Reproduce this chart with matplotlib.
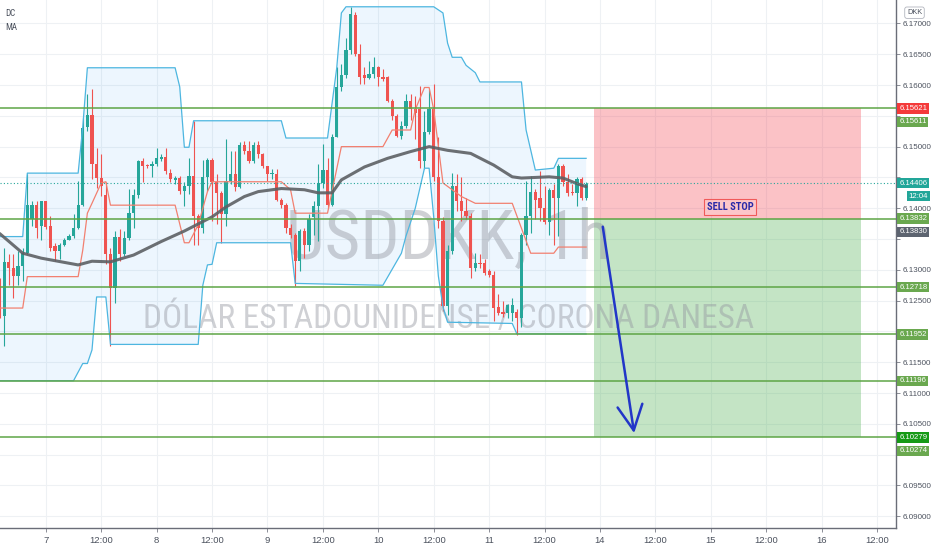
import numpy as np
import matplotlib.pyplot as plt
from matplotlib.patches import Rectangle

# USDDKK 1h candles, hour 0 = day 7 00:00 (weekend skipped), first candle at hour -10
opens = [6.1282, 6.1225, 6.1313, 6.1303, 6.1290, 6.1306, 6.1328, 6.1382, 6.1406, 6.1371,
         6.1411, 6.1371, 6.1339, 6.1330, 6.1341, 6.1349, 6.1355, 6.1368, 6.1406, 6.1532,
         6.1552, 6.1471, 6.1449, 6.1421, 6.1325, 6.1271, 6.1353, 6.1325, 6.1351, 6.1393,
         6.1421, 6.1477, 6.1470, 6.1468, 6.1471, 6.1480, 6.1483, 6.1458, 6.1446, 6.1449,
         6.1428, 6.1436, 6.1452, 6.1387, 6.1368, 6.1450, 6.1479, 6.1442, 6.1425, 6.1390,
         6.1444, 6.1456, 6.1434, 6.1502, 6.1493, 6.1477, 6.1502, 6.1488, 6.1469, 6.1455,
         6.1456, 6.1414, 6.1406, 6.1368, 6.1357, 6.1314, 6.1363, 6.1340, 6.1385, 6.1404,
         6.1441, 6.1462, 6.1406, 6.1516, 6.1597, 6.1617, 6.1657, 6.1714, 6.1651, 6.1617,
         6.1611, 6.1618, 6.1630, 6.1613, 6.1613, 6.1574, 6.1550, 6.1517, 6.1534, 6.1574,
         6.1561, 6.1561, 6.1477, 6.1523, 6.1561, 6.1450, 6.1379, 6.1241, 6.1331, 6.1436,
         6.1412, 6.1395, 6.1388, 6.1303, 6.1311, 6.1311, 6.1298, 6.1292, 6.1239, 6.1232,
         6.1230, 6.1230, 6.1232, 6.1222, 6.1357, 6.1387, 6.1427, 6.1417, 6.1401, 6.1378,
         6.1429, 6.1417, 6.1469, 6.1442, 6.1427, 6.1425, 6.1447, 6.1417]
highs = [6.1287, 6.1336, 6.1325, 6.1325, 6.1330, 6.1336, 6.1455, 6.1412, 6.1412, 6.1412,
         6.1412, 6.1387, 6.1344, 6.1344, 6.1352, 6.1359, 6.1390, 6.1444, 6.1547, 6.1585,
         6.1593, 6.1498, 6.1488, 6.1442, 6.1336, 6.1363, 6.1366, 6.1363, 6.1431, 6.1431,
         6.1479, 6.1481, 6.1472, 6.1477, 6.1498, 6.1488, 6.1498, 6.1463, 6.1452, 6.1452,
         6.1442, 6.1482, 6.1542, 6.1390, 6.1479, 6.1482, 6.1482, 6.1455, 6.1428, 6.1512,
         6.1493, 6.1493, 6.1507, 6.1509, 6.1509, 6.1507, 6.1509, 6.1490, 6.1469, 6.1463,
         6.1463, 6.1417, 6.1409, 6.1374, 6.1360, 6.1366, 6.1368, 6.1390, 6.1412, 6.1471,
         6.1504, 6.1482, 6.1520, 6.1629, 6.1634, 6.1677, 6.1726, 6.1718, 6.1666, 6.1629,
         6.1639, 6.1645, 6.1631, 6.1626, 6.1615, 6.1577, 6.1553, 6.1542, 6.1585, 6.1585,
         6.1582, 6.1599, 6.1558, 6.1593, 6.1601, 6.1515, 6.1385, 6.1341, 6.1458, 6.1455,
         6.1450, 6.1417, 6.1392, 6.1328, 6.1325, 6.1317, 6.1301, 6.1298, 6.1260, 6.1249,
         6.1244, 6.1255, 6.1236, 6.1360, 6.1444, 6.1452, 6.1431, 6.1461, 6.1436, 6.1433,
         6.1439, 6.1471, 6.1471, 6.1455, 6.1439, 6.1450, 6.1450, 6.1442]
lows = [6.1222, 6.1176, 6.1276, 6.1255, 6.1276, 6.1282, 6.1325, 6.1371, 6.1352, 6.1349,
        6.1366, 6.1330, 6.1314, 6.1317, 6.1339, 6.1349, 6.1352, 6.1366, 6.1404, 6.1526,
        6.1447, 6.1433, 6.1420, 6.1309, 6.1176, 6.1246, 6.1314, 6.1322, 6.1349, 6.1368,
        6.1417, 6.1442, 6.1466, 6.1451, 6.1469, 6.1477, 6.1455, 6.1442, 6.1439, 6.1423,
        6.1404, 6.1423, 6.1341, 6.1341, 6.1360, 6.1428, 6.1379, 6.1374, 6.1344, 6.1371,
        6.1439, 6.1428, 6.1433, 6.1488, 6.1474, 6.1474, 6.1482, 6.1466, 6.1444, 6.1447,
        6.1412, 6.1401, 6.1360, 6.1352, 6.1273, 6.1298, 6.1320, 6.1330, 6.1357, 6.1347,
        6.1433, 6.1401, 6.1404, 6.1515, 6.1591, 6.1612, 6.1650, 6.1647, 6.1601, 6.1601,
        6.1610, 6.1612, 6.1599, 6.1607, 6.1572, 6.1544, 6.1515, 6.1512, 6.1531, 6.1544,
        6.1512, 6.1466, 6.1463, 6.1520, 6.1444, 6.1368, 6.1233, 6.1227, 6.1325, 6.1395,
        6.1379, 6.1382, 6.1287, 6.1298, 6.1303, 6.1292, 6.1288, 6.1217, 6.1227, 6.1224,
        6.1222, 6.1217, 6.1195, 6.1208, 6.1341, 6.1360, 6.1382, 6.1379, 6.1374, 6.1357,
        6.1341, 6.1355, 6.1436, 6.1420, 6.1422, 6.1404, 6.1414, 6.1414]
closes = [6.1225, 6.1313, 6.1303, 6.1290, 6.1306, 6.1328, 6.1406, 6.1406, 6.1368, 6.1411,
          6.1369, 6.1336, 6.1330, 6.1341, 6.1349, 6.1355, 6.1368, 6.1406, 6.1531, 6.1552,
          6.1471, 6.1449, 6.1436, 6.1325, 6.1271, 6.1353, 6.1325, 6.1351, 6.1393, 6.1421,
          6.1477, 6.1469, 6.1468, 6.1471, 6.1481, 6.1483, 6.1461, 6.1447, 6.1449, 6.1428,
          6.1436, 6.1452, 6.1387, 6.1368, 6.1450, 6.1479, 6.1442, 6.1425, 6.1390, 6.1444,
          6.1456, 6.1434, 6.1502, 6.1493, 6.1477, 6.1502, 6.1488, 6.1469, 6.1455, 6.1458,
          6.1414, 6.1406, 6.1368, 6.1357, 6.1314, 6.1363, 6.1340, 6.1382, 6.1404, 6.1441,
          6.1462, 6.1406, 6.1516, 6.1597, 6.1617, 6.1657, 6.1715, 6.1651, 6.1613, 6.1611,
          6.1618, 6.1630, 6.1613, 6.1609, 6.1574, 6.1550, 6.1517, 6.1534, 6.1574, 6.1561,
          6.1555, 6.1477, 6.1523, 6.1561, 6.1450, 6.1379, 6.1241, 6.1331, 6.1436, 6.1412,
          6.1395, 6.1388, 6.1303, 6.1311, 6.1309, 6.1295, 6.1291, 6.1238, 6.1230, 6.1228,
          6.1243, 6.1243, 6.1222, 6.1357, 6.1387, 6.1427, 6.1414, 6.1401, 6.1378, 6.1429,
          6.1417, 6.1469, 6.1442, 6.1425, 6.1424, 6.1447, 6.1417, 6.1440]

# indicator lines as (hour, price) turning points
dc_upper_h = [-10, -5, -4, 7, 8, 9, 28, 29, 30, 31, 32, 51, 52, 61, 63, 64, 65, 84, 86, 87,
              88, 90, 91, 93, 94, 103, 104, 106, 110, 111, 117]
dc_upper_p = [6.1354, 6.1354, 6.1457, 6.1457, 6.1532, 6.1628, 6.1628, 6.1597, 6.1499, 6.1499,
              6.1542, 6.1542, 6.1514, 6.1514, 6.1628, 6.1717, 6.1727, 6.1727, 6.1717, 6.1668,
              6.1645, 6.1645, 6.1632, 6.1620, 6.1605, 6.1605, 6.1527, 6.1462, 6.1465, 6.1481,
              6.1481]
dc_lower_h = [-10, 6, 8, 9, 10, 11, 13, 14, 33, 34, 35, 36, 37, 53, 54, 73, 77, 78, 80, 82,
              83, 84, 85, 86, 87, 101, 102, 117]
dc_lower_p = [6.1120, 6.1120, 6.1148, 6.1148, 6.1170, 6.1256, 6.1256, 6.1179, 6.1179, 6.1275,
              6.1308, 6.1309, 6.1344, 6.1344, 6.1278, 6.1275, 6.1327, 6.1355, 6.1400, 6.1465,
              6.1465, 6.1385, 6.1290, 6.1240, 6.1215, 6.1213, 6.1196, 6.1196]
dc_basis_h = [-10, -5, -4, 7, 8, 9, 10, 12, 13, 14, 28, 30, 31, 33, 35, 36, 51, 53, 54, 61,
              64, 73, 75, 79, 80, 82, 83, 84, 86, 88, 90, 93, 101, 105, 110, 111, 117]
dc_basis_p = [6.1238, 6.1238, 6.1289, 6.1289, 6.1332, 6.1392, 6.1408, 6.1441, 6.1443, 6.1405,
              6.1405, 6.1344, 6.1344, 6.1373, 6.1427, 6.1443, 6.1443, 6.1430, 6.1392, 6.1392,
              6.1500, 6.1500, 6.1527, 6.1527, 6.1560, 6.1596, 6.1596, 6.1560, 6.1441, 6.1430,
              6.1419, 6.1408, 6.1408, 6.1327, 6.1327, 6.1337, 6.1337]
ma_h = [-10, -5, -1, 7, 10, 14, 19, 25, 30, 36, 39, 43, 46, 51, 56, 59, 62, 64, 69, 74,
        79, 83, 87, 92, 97, 101, 103, 109, 112, 115, 117]
ma_p = [6.1359, 6.1327, 6.1319, 6.1308, 6.1314, 6.1313, 6.1324, 6.1346, 6.1363, 6.1386,
        6.1402, 6.1419, 6.1427, 6.1432, 6.1430, 6.1425, 6.1425, 6.1446, 6.1467, 6.1481,
        6.1492, 6.1500, 6.1494, 6.1489, 6.1470, 6.1451, 6.1449, 6.1451, 6.1449, 6.1440,
        6.1435]

levels = [6.15621, 6.13832, 6.12718, 6.11952, 6.11196, 6.10279]
last_price = 6.14406
stop_price, entry_price, target_price = 6.15621, 6.13832, 6.10279
box_h = [118.7, 176.6]
arrow_h = [120.6, 127.4]
arrow_p = [6.1370, 6.1035]

tick_hours = list(range(0, 181, 12))
tick_names = ['7', '12:00', '8', '12:00', '9', '12:00', '10', '12:00', '11', '12:00',
              '14', '12:00', '15', '12:00', '16', '12:00']

# price tags on the scale: value, text, colour, stacked below the tag above
tags = [(6.15621, '6.15621', '#f43a3a', 0),
        (6.15611, '6.15611', '#6aa84f', 1),
        (6.14406, '6.14406', '#22a699', 0),
        (6.13832, '6.13832', '#6aa84f', 0),
        (6.13830, '6.13830', '#5d6470', 1),
        (6.12718, '6.12718', '#6aa84f', 0),
        (6.11952, '6.11952', '#6aa84f', 0),
        (6.11196, '6.11196', '#6aa84f', 0),
        (6.10279, '6.10279', '#169a16', 0),
        (6.10274, '6.10274', '#6aa84f', 1)]

condensed = ['Roboto Condensed', 'Liberation Sans Narrow', 'DejaVu Sans Condensed',
             'Liberation Sans', 'DejaVu Sans']
plt.rcParams['font.family'] = ['Liberation Sans', 'DejaVu Sans']

fig = plt.figure(figsize=(9.32, 5.5), dpi=100)
ax = fig.add_axes([0, 22 / 550, 896 / 932, 528 / 550])
ax.set_xlim(-9.92, 184.1)
ax.set_ylim(6.0881, 6.1738)
px = (6.1738 - 6.0881) / 528  # price per pixel

o = np.array(opens)
hi = np.array(highs)
lo = np.array(lows)
c = np.array(closes)
hrs = np.arange(len(o)) - 10
col = np.where(c >= o, '#26a69a', '#ef5350')

# watermark
wm1 = ax.text(87.1, 6.1318, 'USDDKK, 1h', ha='center', va='baseline', fontsize=52,
              family=condensed, fontstretch='condensed', color='#9598a1', alpha=0.45,
              zorder=1.5)
wm2 = ax.text(87.2, 6.1206, 'DÓLAR ESTADOUNIDENSE / CORONA DANESA', ha='center',
              va='baseline', fontsize=25, family=condensed, fontstretch='condensed',
              color='#9598a1', alpha=0.45, zorder=1.5)

# donchian channel
ax.fill(np.r_[dc_upper_h, dc_lower_h[::-1]], np.r_[dc_upper_p, dc_lower_p[::-1]],
        color=(33 / 255, 150 / 255, 243 / 255, 0.08), lw=0, zorder=1)
ax.plot(dc_upper_h, dc_upper_p, color='#4db6e0', lw=0.9, zorder=3.2)
ax.plot(dc_lower_h, dc_lower_p, color='#4db6e0', lw=0.9, zorder=3.2)
ax.plot(dc_basis_h, dc_basis_p, color='#f28070', lw=0.9, zorder=3.2)

# candles
ax.vlines(hrs, lo, hi, colors=col, lw=0.8, zorder=2.9)
ax.bar(hrs, np.maximum(np.abs(c - o), 0.00005), bottom=np.minimum(o, c), width=0.7,
       color=col, lw=0, zorder=3)

ax.plot(ma_h, ma_p, color='#5d6064', lw=2.2, alpha=0.9, zorder=3.3, solid_capstyle='round')

# short position tool
ax.add_patch(Rectangle((box_h[0], entry_price), box_h[1] - box_h[0], stop_price - entry_price,
                       fc=(242 / 255, 54 / 255, 69 / 255, 0.3), lw=0, zorder=1.2))
ax.add_patch(Rectangle((box_h[0], target_price), box_h[1] - box_h[0], entry_price - target_price,
                       fc=(76 / 255, 175 / 255, 80 / 255, 0.33), lw=0, zorder=1.2))

for lv in levels:
    ax.axhline(lv, color='#5ea546', lw=1.1, zorder=4)
ax.axhline(last_price, color='#26a69a', lw=0.8, ls=(0, (1, 2)), zorder=3.5)

sell = ax.text(148.2, 6.1402, 'SELL STOP', ha='center', va='center', fontsize=7.5,
               fontweight='bold', family=condensed, fontstretch='condensed',
               color='#2a2aa8', zorder=6,
               bbox=dict(boxstyle='square,pad=0.25', fc='#fcc6c9', ec='#f05a5a', lw=0.8))

ax.annotate('', xy=(arrow_h[1], arrow_p[1]), xytext=(arrow_h[0], arrow_p[0]),
            arrowprops=dict(arrowstyle='->,head_length=0.9,head_width=0.45', color='#2236c8',
                            lw=1.8, mutation_scale=20, shrinkA=0, shrinkB=0), zorder=6)

ax.text(5 / 896, 1 - 14 / 528, 'DC', transform=ax.transAxes, va='center', fontsize=6.5,
        family=condensed, color='#4c525e')
ax.text(5 / 896, 1 - 28 / 528, 'MA', transform=ax.transAxes, va='center', fontsize=6.5,
        family=condensed, color='#4c525e')

# axes styling; scale labels hidden where a price tag sits over them
stack_px = 13.0
tag_y = [v - s * stack_px * px for v, _, _, s in tags]
tag_y.append(last_price - stack_px * px)
yt = np.arange(6.090, 6.1701, 0.005)
ylabels = [f'{v:.5f}' if min(abs(v - t) for t in tag_y) > 9.5 * px else '' for v in yt]

ax.set_xticks(tick_hours)
ax.set_xticklabels(tick_names)
ax.yaxis.tick_right()
ax.set_yticks(yt)
ax.set_yticklabels(ylabels)
ax.tick_params(axis='x', length=3, width=0.6, color='#787b86', labelsize=6.8,
               labelcolor='#4c525e', pad=3)
ax.tick_params(axis='y', length=3, width=0.6, color='#787b86', labelsize=5.8,
               labelcolor='#4c525e', pad=1.5)
ax.grid(True, color='#eef1f4', lw=0.8)
ax.set_axisbelow(True)
for s in ['top', 'left']:
    ax.spines[s].set_visible(False)
for s in ['right', 'bottom']:
    ax.spines[s].set_color('#6a6d78')
    ax.spines[s].set_linewidth(1)

ytr = ax.get_yaxis_transform()
for (val, txt, fc, stack), ty in zip(tags, tag_y):
    ax.annotate(txt, xy=(1.0035, ty), xycoords=ytr, ha='left', va='center', fontsize=5.6,
                color='white', annotation_clip=False,
                bbox=dict(boxstyle='square,pad=0.22', fc=fc, ec='none'))
ax.annotate('12:04', xy=(1.014, tag_y[-1]), xycoords=ytr, ha='left', va='center',
            fontsize=5.6, color='white', annotation_clip=False,
            bbox=dict(boxstyle='square,pad=0.22', fc='#22a699', ec='none'))

fig.text(914.5 / 932, 1 - 12.7 / 550, 'DKK', ha='center', va='center', fontsize=5.3,
         color='#4c525e', bbox=dict(boxstyle='round,pad=0.3', fc='white', ec='#b2b5be', lw=0.6))

# fit the watermark and label widths to the reference
fig.canvas.draw()
rend = fig.canvas.get_renderer()
for t, w in [(wm1, 325), (wm2, 610), (sell, 47)]:
    bw = t.get_window_extent(rend).width
    t.set_fontsize(t.get_fontsize() * w / bw)

fig.savefig('out.png', dpi=100)
